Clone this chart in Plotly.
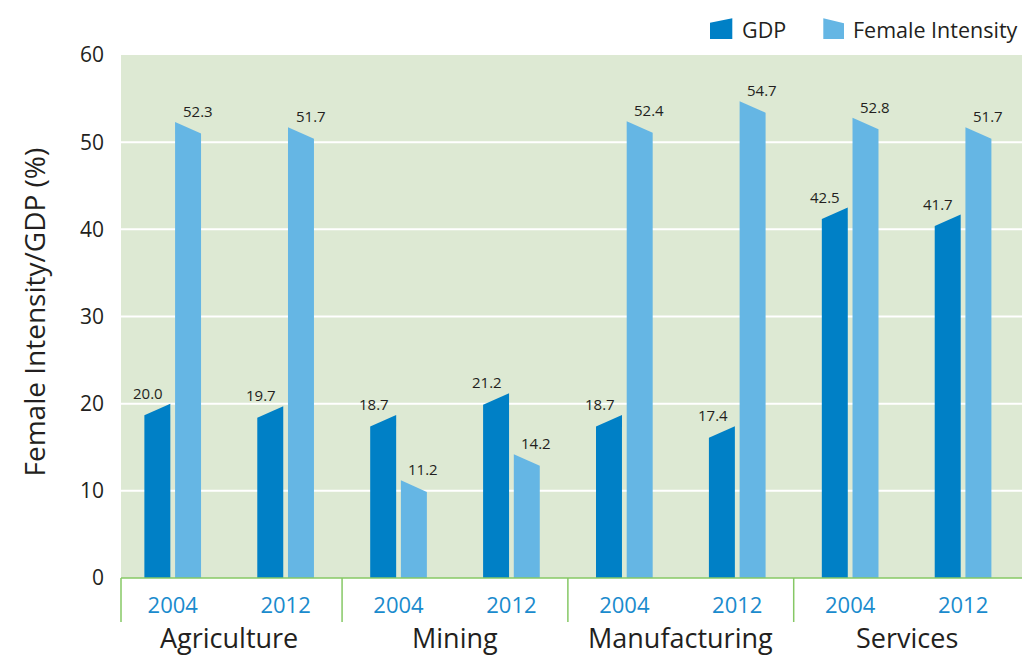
import plotly.graph_objects as go

# Data
sectors = ["Agriculture", "Mining", "Manufacturing", "Services"]
years = ["2004", "2012"]
gdp = [20.0, 19.7, 18.7, 21.2, 18.7, 17.4, 42.5, 41.7]
female_intensity = [52.3, 51.7, 11.2, 14.2, 52.4, 54.7, 52.8, 51.7]
y_ticks = [0, 10, 20, 30, 40, 50, 60]

# Styling
GDP_COLOR = "#0080c6"
FI_COLOR = "#65b6e4"
BG_COLOR = "#dde9d3"
LINE_GREEN = "#86c865"
TEXT_DARK = "#231f20"
YEAR_BLUE = "#1a8bcd"
FONT = "Open Sans"

BAR_W = 0.23      # bar width in slot units
HALF_GAP = 0.021  # half of the gap between the two bars of a slot
SLANT = 1.32      # drop of the low corner of the bevelled top

L, R, T, B = 121, 4, 55, 80
W, H = 1026, 658
PW, PH = W - L - R, H - T - B

fig = go.Figure()

slots = list(range(len(gdp)))

def bar_polygon(x0, x1, top_left, top_right):
    return [x0, x0, x1, x1, x0], [0, top_left, top_right, 0, 0]

for i in slots:
    # GDP bar: top rises to the right
    xs, ys = bar_polygon(i - HALF_GAP - BAR_W, i - HALF_GAP, gdp[i] - SLANT, gdp[i])
    fig.add_trace(go.Scatter(x=xs, y=ys, fill="toself", fillcolor=GDP_COLOR,
                             mode="lines", line=dict(width=0, color=GDP_COLOR),
                             showlegend=False, hoverinfo="skip"))
    # Female intensity bar: top falls to the right
    xs, ys = bar_polygon(i + HALF_GAP, i + HALF_GAP + BAR_W,
                         female_intensity[i], female_intensity[i] - SLANT)
    fig.add_trace(go.Scatter(x=xs, y=ys, fill="toself", fillcolor=FI_COLOR,
                             mode="lines", line=dict(width=0, color=FI_COLOR),
                             showlegend=False, hoverinfo="skip"))
    # value labels
    fig.add_annotation(x=i - 0.219, y=gdp[i], text=f"{gdp[i]:.1f}", showarrow=False,
                       yshift=11, font=dict(family=FONT, size=15, color=TEXT_DARK))
    fig.add_annotation(x=i + 0.221, y=female_intensity[i], text=f"{female_intensity[i]:.1f}",
                       showarrow=False, yshift=11,
                       font=dict(family=FONT, size=15, color=TEXT_DARK))

shapes = []
# horizontal gridlines
for v in y_ticks[1:-1]:
    shapes.append(dict(type="line", xref="paper", yref="y", x0=0, x1=1, y0=v, y1=v,
                       line=dict(color="white", width=2), layer="below"))
# baseline and sector separators below the plot
sep_depth = 44 / PH
shapes.append(dict(type="line", xref="paper", yref="paper", x0=0, x1=1, y0=0, y1=0,
                   line=dict(color=LINE_GREEN, width=1.5)))
shapes.append(dict(type="line", xref="paper", yref="paper", x0=0, x1=0, y0=0, y1=-sep_depth,
                   line=dict(color=LINE_GREEN, width=1.5)))
for k in range(1, len(sectors)):
    xs = 2 * k - 0.5
    shapes.append(dict(type="line", xref="x", yref="paper", x0=xs, x1=xs, y0=0, y1=-sep_depth,
                       line=dict(color=LINE_GREEN, width=1.5)))

# sector names, sitting on the bottom edge of the figure
for k, name in enumerate(sectors):
    fig.add_annotation(x=2 * k + 0.5, xref="x", y=0, yref="paper", yanchor="bottom",
                       yshift=-B, text=name, showarrow=False,
                       font=dict(family=FONT, size=27, color=TEXT_DARK))

# y-axis title
fig.add_annotation(x=0, xref="paper", xshift=-88, xanchor="center", y=0.5, yref="paper",
                   yanchor="middle", yshift=4, textangle=-90,
                   text="Female Intensity/GDP (%)", showarrow=False,
                   font=dict(family=FONT, size=28, color=TEXT_DARK))

# legend (drawn manually with bevelled swatches)
def px_to_paper(px, py):
    return (px - L) / PW, (H - B - py) / PH

def swatch(points, color):
    pts = [px_to_paper(x, y) for x, y in points]
    path = "M " + " L ".join(f"{x:.5f},{y:.5f}" for x, y in pts) + " Z"
    return dict(type="path", xref="paper", yref="paper", path=path,
                fillcolor=color, line=dict(width=0))

shapes.append(swatch([(710, 39), (710, 22.7), (732.3, 18.3), (732.3, 39)], GDP_COLOR))
shapes.append(swatch([(823.3, 39), (823.3, 18.3), (844, 23.3), (844, 39)], FI_COLOR))
for label, left in [("GDP", 740), ("Female Intensity", 851)]:
    xp, yp = px_to_paper(left, 30)
    fig.add_annotation(x=xp, y=yp, xref="paper", yref="paper", xanchor="left",
                       yanchor="middle", text=label, showarrow=False,
                       font=dict(family=FONT, size=21.5, color=TEXT_DARK))

fig.update_layout(
    width=W, height=H,
    margin=dict(l=L, r=R, t=T, b=B),
    paper_bgcolor="white",
    plot_bgcolor=BG_COLOR,
    showlegend=False,
    shapes=shapes,
    xaxis=dict(range=[-0.458, 7.522], tickvals=slots,
               ticktext=[years[i % 2] for i in slots],
               showgrid=False, zeroline=False, showline=False, ticks="",
               tickfont=dict(family=FONT, size=22, color=YEAR_BLUE),
               ticklabelstandoff=12, fixedrange=True),
    yaxis=dict(range=[0, 60], tickvals=y_ticks, showgrid=False, zeroline=False,
               showline=False, ticks="",
               tickfont=dict(family=FONT, size=21, color=TEXT_DARK),
               ticklabelstandoff=16, fixedrange=True),
)

fig.write_html("out.html")
